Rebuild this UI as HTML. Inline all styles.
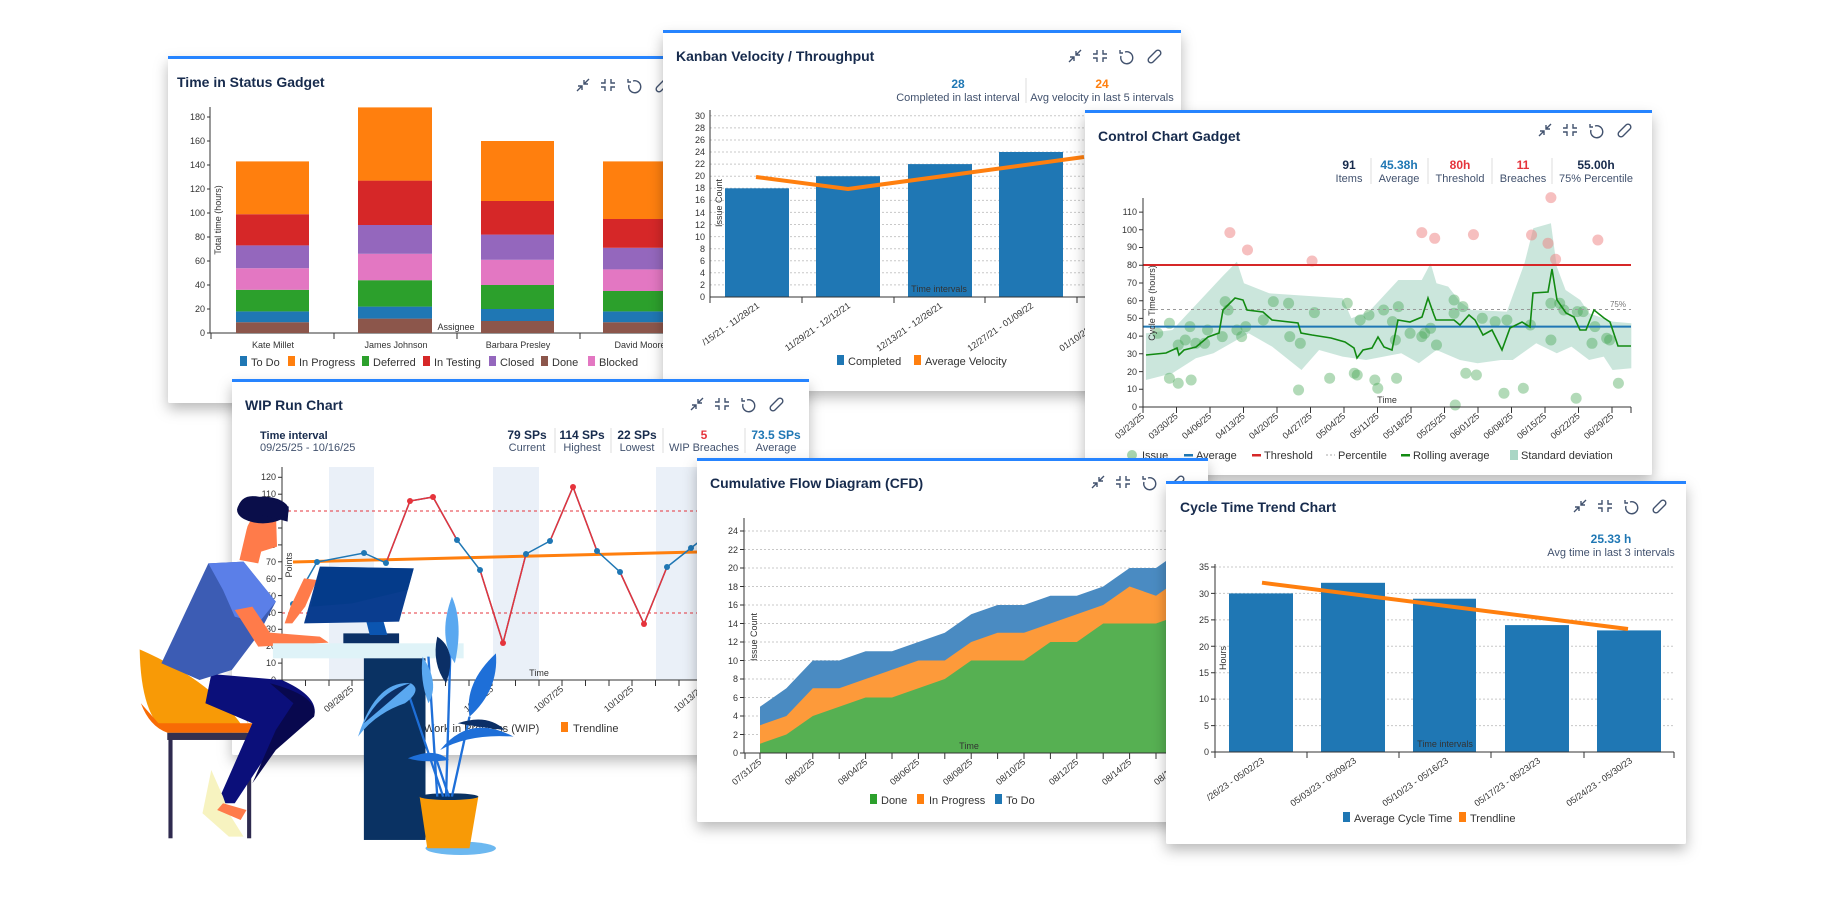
<!DOCTYPE html>
<html><head><meta charset="utf-8"><style>
html,body{margin:0;padding:0;background:#fff;width:1840px;height:900px;overflow:hidden}
svg{display:block;font-family:"Liberation Sans",sans-serif}
.t{font-size:14px;font-weight:bold;fill:#172b4d}
.k{font-size:9px;fill:#333}
.lg{font-size:11px;fill:#333}
.sv{font-size:12px;font-weight:bold;text-anchor:middle}
.sl{font-size:11px;fill:#42526e;text-anchor:middle}
.g{stroke:#c8c8c8;stroke-dasharray:2 2;stroke-width:1}
.ax{stroke:#333;stroke-width:1;fill:none}
</style></head><body>
<svg width="1840" height="900" viewBox="0 0 1840 900">
<defs>
<filter id="sh" x="-10%" y="-10%" width="125%" height="130%"><feDropShadow dx="0" dy="6" stdDeviation="7" flood-color="#000" flood-opacity="0.28"/></filter>
<symbol id="ic" viewBox="0 0 110 16" overflow="visible">
<g fill="none" stroke="#42526e" stroke-width="1.4">
<path d="M2 14 L7 9 M3 9 H7 V13 M14 2 L9 7 M9 3 V7 H13"/>
<path d="M30 2 V6 H26 M36 2 V6 H40 M30 14 V10 H26 M36 14 V10 H40"/>
<path d="M58 4 A6 6 0 1 1 54 8 M53 2 V5 H56"/>
<path d="M83 9 L89 3 A2.5 2.5 0 0 1 93 7 L86 14 A2.5 2.5 0 0 1 82 10 L88 4"/>
</g></symbol>
</defs>

<!-- CARD 1: Time in Status -->
<g filter="url(#sh)"><rect x="168" y="57" width="540" height="346" fill="#fff" rx="2"/></g>
<rect x="168" y="56" width="540" height="3" fill="#2684ff"/>
<text x="177" y="87" class="t">Time in Status Gadget</text>
<use href="#ic" x="575" y="77" width="110" height="16"/>
<g class="k" text-anchor="end">
<text x="205" y="336">0</text><text x="205" y="312">20</text><text x="205" y="288">40</text><text x="205" y="264">60</text><text x="205" y="240">80</text><text x="205" y="216">100</text><text x="205" y="192">120</text><text x="205" y="168">140</text><text x="205" y="144">160</text><text x="205" y="120">180</text>
</g>
<path class="ax" d="M210 107 V333 H700 M207 333 H210 M207 309 H210 M207 285 H210 M207 261 H210 M207 237 H210 M207 213 H210 M207 189 H210 M207 165 H210 M207 141 H210 M207 117 H210 M211 333 V339 M334 333 V339 M457 333 V339 M580 333 V339"/>
<text transform="translate(221 220) rotate(-90)" text-anchor="middle" font-size="9" fill="#333">Total time (hours)</text>
<g>
<rect x="236" y="322.2" width="73" height="10.8" fill="#8c564b"/><rect x="236" y="311.4" width="73" height="10.8" fill="#1f77b4"/><rect x="236" y="289.8" width="73" height="21.6" fill="#2ca02c"/><rect x="236" y="268.2" width="73" height="21.6" fill="#e377c2"/><rect x="236" y="245.4" width="73" height="22.8" fill="#9467bd"/><rect x="236" y="214.2" width="73" height="31.2" fill="#d62728"/><rect x="236" y="161.4" width="73" height="52.8" fill="#ff7f0e"/>
<rect x="358" y="318.6" width="74" height="14.4" fill="#8c564b"/><rect x="358" y="306.6" width="74" height="12" fill="#1f77b4"/><rect x="358" y="280.2" width="74" height="26.4" fill="#2ca02c"/><rect x="358" y="253.8" width="74" height="26.4" fill="#e377c2"/><rect x="358" y="225" width="74" height="28.8" fill="#9467bd"/><rect x="358" y="180.6" width="74" height="44.4" fill="#d62728"/><rect x="358" y="107.4" width="74" height="73.2" fill="#ff7f0e"/>
<rect x="481" y="321" width="73" height="12" fill="#8c564b"/><rect x="481" y="309" width="73" height="12" fill="#1f77b4"/><rect x="481" y="285" width="73" height="24" fill="#2ca02c"/><rect x="481" y="259.8" width="73" height="25.2" fill="#e377c2"/><rect x="481" y="234.6" width="73" height="25.2" fill="#9467bd"/><rect x="481" y="201" width="73" height="33.6" fill="#d62728"/><rect x="481" y="141" width="73" height="60" fill="#ff7f0e"/>
<rect x="603" y="322.2" width="73" height="10.8" fill="#8c564b"/><rect x="603" y="311.4" width="73" height="10.8" fill="#1f77b4"/><rect x="603" y="291" width="73" height="20.4" fill="#2ca02c"/><rect x="603" y="269.4" width="73" height="21.6" fill="#e377c2"/><rect x="603" y="247.8" width="73" height="21.6" fill="#9467bd"/><rect x="603" y="219" width="73" height="28.8" fill="#d62728"/><rect x="603" y="161.4" width="73" height="57.6" fill="#ff7f0e"/>
</g>
<text x="456" y="330" font-size="9" fill="#333" text-anchor="middle">Assignee</text>
<g class="k" text-anchor="middle"><text x="273" y="348">Kate Millet</text><text x="396" y="348">James Johnson</text><text x="518" y="348">Barbara Presley</text><text x="640" y="348">David Moore</text></g>
<g class="lg">
<rect x="240" y="356" width="7" height="10" fill="#1f77b4"/><text x="251" y="366">To Do</text>
<rect x="288" y="356" width="7" height="10" fill="#ff7f0e"/><text x="299" y="366">In Progress</text>
<rect x="362" y="356" width="7" height="10" fill="#2ca02c"/><text x="373" y="366">Deferred</text>
<rect x="423" y="356" width="7" height="10" fill="#d62728"/><text x="434" y="366">In Testing</text>
<rect x="489" y="356" width="7" height="10" fill="#9467bd"/><text x="500" y="366">Closed</text>
<rect x="541" y="356" width="7" height="10" fill="#8c564b"/><text x="552" y="366">Done</text>
<rect x="588" y="356" width="7" height="10" fill="#e377c2"/><text x="599" y="366">Blocked</text>
</g>

<!-- CARD 2: Kanban -->
<g filter="url(#sh)"><rect x="663" y="31" width="518" height="360" fill="#fff" rx="2"/></g>
<rect x="663" y="30" width="518" height="3" fill="#2684ff"/>
<text x="676" y="61" class="t">Kanban Velocity / Throughput</text>
<use href="#ic" x="1067" y="48" width="110" height="16"/>
<text x="958" y="88" class="sv" fill="#1f77b4">28</text><text x="958" y="101" class="sl">Completed in last interval</text>
<line x1="1026" y1="78" x2="1026" y2="103" stroke="#ddd"/>
<text x="1102" y="88" class="sv" fill="#ff7f0e">24</text><text x="1102" y="101" class="sl">Avg velocity in last 5 intervals</text>
<g>
<line class="g" x1="710" x2="1085" y1="284.9" y2="284.9"/><line class="g" x1="710" x2="1085" y1="272.8" y2="272.8"/><line class="g" x1="710" x2="1085" y1="260.8" y2="260.8"/><line class="g" x1="710" x2="1085" y1="248.7" y2="248.7"/><line class="g" x1="710" x2="1085" y1="236.6" y2="236.6"/><line class="g" x1="710" x2="1085" y1="224.5" y2="224.5"/><line class="g" x1="710" x2="1085" y1="212.4" y2="212.4"/><line class="g" x1="710" x2="1085" y1="200.4" y2="200.4"/><line class="g" x1="710" x2="1085" y1="188.3" y2="188.3"/><line class="g" x1="710" x2="1085" y1="176.2" y2="176.2"/><line class="g" x1="710" x2="1085" y1="164.1" y2="164.1"/><line class="g" x1="710" x2="1085" y1="152" y2="152"/><line class="g" x1="710" x2="1085" y1="140" y2="140"/><line class="g" x1="710" x2="1085" y1="127.9" y2="127.9"/><line class="g" x1="710" x2="1085" y1="115.8" y2="115.8"/>
</g>
<g class="k" text-anchor="end">
<text x="705" y="300">0</text><text x="705" y="288">2</text><text x="705" y="276">4</text><text x="705" y="264">6</text><text x="705" y="252">8</text><text x="705" y="240">10</text><text x="705" y="228">12</text><text x="705" y="216">14</text><text x="705" y="203">16</text><text x="705" y="191">18</text><text x="705" y="179">20</text><text x="705" y="167">22</text><text x="705" y="155">24</text><text x="705" y="143">26</text><text x="705" y="131">28</text><text x="705" y="119">30</text>
</g>
<rect x="725" y="188.3" width="64" height="108.7" fill="#1f77b4"/>
<rect x="816" y="176.2" width="64" height="120.8" fill="#1f77b4"/>
<rect x="908" y="164.1" width="64" height="132.9" fill="#1f77b4"/>
<rect x="999" y="152" width="64" height="145" fill="#1f77b4"/>
<rect x="1091" y="127.9" width="64" height="169.1" fill="#1f77b4"/>
<path class="ax" d="M710 110 V297 H1100 M710 303 V297 M802 303 V297 M894 303 V297 M985 303 V297 M1077 303 V297"/>
<polyline points="756,177 848,189 1084,157" fill="none" stroke="#ff7f0e" stroke-width="4"/>
<text transform="translate(722 203) rotate(-90)" text-anchor="middle" font-size="9" fill="#333">Issue Count</text>
<text x="939" y="292" font-size="9" fill="#333" text-anchor="middle">Time intervals</text>
<g class="k" text-anchor="end">
<text transform="translate(760 307) rotate(-35)">/15/21 - 11/28/21</text>
<text transform="translate(851 307) rotate(-35)">11/29/21 - 12/12/21</text>
<text transform="translate(943 307) rotate(-35)">12/13/21 - 12/26/21</text>
<text transform="translate(1034 307) rotate(-35)">12/27/21 - 01/09/22</text>
<text transform="translate(1126 307) rotate(-35)">01/10/22 - 01/23/22</text>
</g>
<g class="lg"><rect x="837" y="355" width="7" height="10" fill="#1f77b4"/><text x="848" y="365">Completed</text><rect x="914" y="355" width="7" height="10" fill="#ff7f0e"/><text x="925" y="365">Average Velocity</text></g>

<!-- CARD 3: Control Chart -->
<g filter="url(#sh)"><rect x="1085" y="111" width="567" height="364" fill="#fff" rx="2"/></g>
<rect x="1085" y="110" width="567" height="3" fill="#2684ff"/>
<text x="1098" y="141" class="t">Control Chart Gadget</text>
<use href="#ic" x="1537" y="122" width="110" height="16"/>
<text x="1349" y="169" class="sv" fill="#172b4d">91</text><text x="1349" y="182" class="sl">Items</text>
<text x="1399" y="169" class="sv" fill="#1f77b4">45.38h</text><text x="1399" y="182" class="sl">Average</text>
<text x="1460" y="169" class="sv" fill="#e5343c">80h</text><text x="1460" y="182" class="sl">Threshold</text>
<text x="1523" y="169" class="sv" fill="#e5343c">11</text><text x="1523" y="182" class="sl">Breaches</text>
<text x="1596" y="169" class="sv" fill="#172b4d">55.00h</text><text x="1596" y="182" class="sl">75% Percentile</text>
<g stroke="#ddd"><line x1="1371" y1="158" x2="1371" y2="184"/><line x1="1428" y1="158" x2="1428" y2="184"/><line x1="1492" y1="158" x2="1492" y2="184"/><line x1="1552" y1="158" x2="1552" y2="184"/></g>
<g transform="translate(920 0) scale(0.5869 0.3333)">
<polygon fill="#a9d6c5" fill-opacity="0.6" points="385,1000 430,990 515,830 540,785 552,850 595,880 720,895 735,955 765,935 815,840 855,840 870,790 880,850 900,860 920,905 940,930 1000,935 1030,790 1045,685 1075,670 1085,800 1100,870 1125,900 1140,940 1180,965 1212,970 1212,1105 1180,1110 1165,1070 1140,1080 1110,1040 1085,1060 1050,1030 1010,1080 990,1080 950,1090 920,1080 880,1050 850,1090 820,1060 760,1080 720,1070 680,1050 650,1110 600,1040 560,1000 530,1030 500,1060 470,1075 430,1120 385,1140"/>
<g fill="#3fa34d" fill-opacity="0.4">
<ellipse cx="405" cy="1000" rx="9.4" ry="16.5"/><ellipse cx="425" cy="970" rx="9.4" ry="16.5"/><ellipse cx="425" cy="1135" rx="9.4" ry="16.5"/><ellipse cx="440" cy="1150" rx="9.4" ry="16.5"/><ellipse cx="440" cy="1035" rx="9.4" ry="16.5"/><ellipse cx="452" cy="1020" rx="9.4" ry="16.5"/><ellipse cx="460" cy="980" rx="9.4" ry="16.5"/><ellipse cx="462" cy="1140" rx="9.4" ry="16.5"/><ellipse cx="470" cy="1030" rx="9.4" ry="16.5"/><ellipse cx="485" cy="1030" rx="9.4" ry="16.5"/><ellipse cx="490" cy="990" rx="9.4" ry="16.5"/><ellipse cx="515" cy="1010" rx="9.4" ry="16.5"/><ellipse cx="520" cy="905" rx="9.4" ry="16.5"/><ellipse cx="525" cy="930" rx="9.4" ry="16.5"/><ellipse cx="540" cy="990" rx="9.4" ry="16.5"/><ellipse cx="548" cy="1010" rx="9.4" ry="16.5"/><ellipse cx="555" cy="980" rx="9.4" ry="16.5"/><ellipse cx="585" cy="960" rx="9.4" ry="16.5"/><ellipse cx="602" cy="905" rx="9.4" ry="16.5"/><ellipse cx="628" cy="910" rx="9.4" ry="16.5"/><ellipse cx="630" cy="1010" rx="9.4" ry="16.5"/><ellipse cx="645" cy="1170" rx="9.4" ry="16.5"/><ellipse cx="648" cy="1030" rx="9.4" ry="16.5"/><ellipse cx="672" cy="938" rx="9.4" ry="16.5"/><ellipse cx="698" cy="1135" rx="9.4" ry="16.5"/><ellipse cx="728" cy="910" rx="9.4" ry="16.5"/><ellipse cx="740" cy="1120" rx="9.4" ry="16.5"/><ellipse cx="745" cy="1125" rx="9.4" ry="16.5"/><ellipse cx="750" cy="960" rx="9.4" ry="16.5"/><ellipse cx="765" cy="945" rx="9.4" ry="16.5"/><ellipse cx="775" cy="1140" rx="9.4" ry="16.5"/><ellipse cx="780" cy="1165" rx="9.4" ry="16.5"/><ellipse cx="790" cy="930" rx="9.4" ry="16.5"/><ellipse cx="805" cy="965" rx="9.4" ry="16.5"/><ellipse cx="810" cy="1020" rx="9.4" ry="16.5"/><ellipse cx="812" cy="1135" rx="9.4" ry="16.5"/><ellipse cx="815" cy="920" rx="9.4" ry="16.5"/><ellipse cx="835" cy="1000" rx="9.4" ry="16.5"/><ellipse cx="855" cy="1010" rx="9.4" ry="16.5"/><ellipse cx="860" cy="1000" rx="9.4" ry="16.5"/><ellipse cx="870" cy="985" rx="9.4" ry="16.5"/><ellipse cx="880" cy="1035" rx="9.4" ry="16.5"/><ellipse cx="910" cy="900" rx="9.4" ry="16.5"/><ellipse cx="912" cy="1215" rx="9.4" ry="16.5"/><ellipse cx="910" cy="940" rx="9.4" ry="16.5"/><ellipse cx="925" cy="920" rx="9.4" ry="16.5"/><ellipse cx="930" cy="1120" rx="9.4" ry="16.5"/><ellipse cx="948" cy="1125" rx="9.4" ry="16.5"/><ellipse cx="958" cy="955" rx="9.4" ry="16.5"/><ellipse cx="980" cy="965" rx="9.4" ry="16.5"/><ellipse cx="995" cy="1180" rx="9.4" ry="16.5"/><ellipse cx="1000" cy="960" rx="9.4" ry="16.5"/><ellipse cx="1028" cy="1165" rx="9.4" ry="16.5"/><ellipse cx="1040" cy="975" rx="9.4" ry="16.5"/><ellipse cx="1075" cy="1020" rx="9.4" ry="16.5"/><ellipse cx="1075" cy="910" rx="9.4" ry="16.5"/><ellipse cx="1090" cy="910" rx="9.4" ry="16.5"/><ellipse cx="1097" cy="930" rx="9.4" ry="16.5"/><ellipse cx="1118" cy="1195" rx="9.4" ry="16.5"/><ellipse cx="1120" cy="935" rx="9.4" ry="16.5"/><ellipse cx="1130" cy="935" rx="9.4" ry="16.5"/><ellipse cx="1145" cy="1030" rx="9.4" ry="16.5"/><ellipse cx="1150" cy="980" rx="9.4" ry="16.5"/><ellipse cx="1170" cy="1015" rx="9.4" ry="16.5"/><ellipse cx="1190" cy="1150" rx="9.4" ry="16.5"/><ellipse cx="1175" cy="1020" rx="9.4" ry="16.5"/>
</g>
<g fill="#ee8080" fill-opacity="0.5">
<ellipse cx="528" cy="698" rx="9.4" ry="16.5"/><ellipse cx="558" cy="750" rx="9.4" ry="16.5"/><ellipse cx="668" cy="783" rx="9.4" ry="16.5"/><ellipse cx="855" cy="698" rx="9.4" ry="16.5"/><ellipse cx="877" cy="715" rx="9.4" ry="16.5"/><ellipse cx="943" cy="704" rx="9.4" ry="16.5"/><ellipse cx="1042" cy="705" rx="9.4" ry="16.5"/><ellipse cx="1075" cy="593" rx="9.4" ry="16.5"/><ellipse cx="1070" cy="730" rx="9.4" ry="16.5"/><ellipse cx="1083" cy="778" rx="9.4" ry="16.5"/><ellipse cx="1155" cy="720" rx="9.4" ry="16.5"/>
</g>
</g>
<line x1="1143" x2="1631" y1="309.5" y2="309.5" stroke="#999" stroke-dasharray="3 3"/>
<line x1="1143" x2="1631" y1="265" y2="265" stroke="#d62728" stroke-width="2"/>
<line x1="1143" x2="1631" y1="326.6" y2="326.6" stroke="#1f77b4" stroke-width="2"/>
<polyline fill="none" stroke="#128a12" stroke-width="1.6" points="1146,355 1166,353 1177,348 1179,355 1184,350 1196,347 1208,337 1219,333 1223,310 1235,298 1243,300 1247,310 1263,312 1272,320 1298,323 1301,333 1312,335 1331,338 1345,342 1354,348 1357,358 1363,350 1372,348 1378,337 1384,347 1392,350 1398,320 1410,322 1422,317 1428,298 1434,315 1436,320 1454,320 1460,325 1469,315 1475,320 1483,335 1492,330 1502,350 1510,328 1522,322 1530,327 1533,293 1548,292 1552,269 1557,300 1566,313 1574,317 1580,330 1586,330 1594,310 1604,318 1610,322 1618,346 1631,346"/>
<text x="1618" y="307" font-size="8" fill="#777" text-anchor="middle">75%</text>
<path class="ax" d="M1143 198 V407 H1631 M1139 407 H1143 M1139 389.3 H1143 M1139 371.6 H1143 M1139 353.8 H1143 M1139 336.1 H1143 M1139 318.4 H1143 M1139 300.7 H1143 M1139 283 H1143 M1139 265.2 H1143 M1139 247.5 H1143 M1139 229.8 H1143 M1139 212.1 H1143"/>
<g class="k" text-anchor="end"><text x="1137" y="410">0</text><text x="1137" y="392">10</text><text x="1137" y="375">20</text><text x="1137" y="357">30</text><text x="1137" y="339">40</text><text x="1137" y="321">50</text><text x="1137" y="304">60</text><text x="1137" y="286">70</text><text x="1137" y="268">80</text><text x="1137" y="250">90</text><text x="1137" y="233">100</text><text x="1137" y="215">110</text></g>
<text transform="translate(1155 303) rotate(-90)" text-anchor="middle" font-size="9" fill="#333">Cycle Time (hours)</text>
<text x="1387" y="403" font-size="9" fill="#333" text-anchor="middle">Time</text>
<g stroke="#333"><line x1="1143" y1="407" x2="1143" y2="413"/><line x1="1176.5" y1="407" x2="1176.5" y2="413"/><line x1="1210" y1="407" x2="1210" y2="413"/><line x1="1243.5" y1="407" x2="1243.5" y2="413"/><line x1="1277" y1="407" x2="1277" y2="413"/><line x1="1310.5" y1="407" x2="1310.5" y2="413"/><line x1="1344" y1="407" x2="1344" y2="413"/><line x1="1377.5" y1="407" x2="1377.5" y2="413"/><line x1="1411" y1="407" x2="1411" y2="413"/><line x1="1444.5" y1="407" x2="1444.5" y2="413"/><line x1="1478" y1="407" x2="1478" y2="413"/><line x1="1511.5" y1="407" x2="1511.5" y2="413"/><line x1="1545" y1="407" x2="1545" y2="413"/><line x1="1578.5" y1="407" x2="1578.5" y2="413"/><line x1="1612" y1="407" x2="1612" y2="413"/><line x1="1631" y1="407" x2="1631" y2="413"/></g>
<g class="k" text-anchor="end">
<text transform="translate(1145 417) rotate(-40)">03/23/25</text><text transform="translate(1178.5 417) rotate(-40)">03/30/25</text><text transform="translate(1212 417) rotate(-40)">04/06/25</text><text transform="translate(1245.5 417) rotate(-40)">04/13/25</text><text transform="translate(1279 417) rotate(-40)">04/20/25</text><text transform="translate(1312.5 417) rotate(-40)">04/27/25</text><text transform="translate(1346 417) rotate(-40)">05/04/25</text><text transform="translate(1379.5 417) rotate(-40)">05/11/25</text><text transform="translate(1413 417) rotate(-40)">05/18/25</text><text transform="translate(1446.5 417) rotate(-40)">05/25/25</text><text transform="translate(1480 417) rotate(-40)">06/01/25</text><text transform="translate(1513.5 417) rotate(-40)">06/08/25</text><text transform="translate(1547 417) rotate(-40)">06/15/25</text><text transform="translate(1580.5 417) rotate(-40)">06/22/25</text><text transform="translate(1614 417) rotate(-40)">06/29/25</text>
</g>
<g class="lg">
<circle cx="1132" cy="455" r="5" fill="#3fa34d" fill-opacity="0.45"/><text x="1142" y="459">Issue</text>
<rect x="1184" y="454" width="9" height="2.5" fill="#1f77b4"/><text x="1196" y="459">Average</text>
<rect x="1252" y="454" width="9" height="2.5" fill="#d62728"/><text x="1264" y="459">Threshold</text>
<line x1="1326" y1="455" x2="1335" y2="455" stroke="#aaa" stroke-dasharray="2 2"/><text x="1338" y="459">Percentile</text>
<rect x="1401" y="454" width="9" height="2.5" fill="#128a12"/><text x="1413" y="459">Rolling average</text>
<rect x="1510" y="450" width="8" height="10" fill="#a9d6c5"/><text x="1521" y="459">Standard deviation</text>
</g>

<!-- CARD 4: WIP Run Chart -->
<g filter="url(#sh)"><rect x="232" y="380" width="577" height="375" fill="#fff" rx="2"/></g>
<rect x="232" y="379" width="577" height="3" fill="#2684ff"/>
<text x="245" y="410" class="t" font-size="15">WIP Run Chart</text>
<use href="#ic" x="689" y="396" width="110" height="16"/>
<text x="260" y="439" font-size="11" font-weight="bold" fill="#172b4d">Time interval</text>
<text x="260" y="451" font-size="11" fill="#42526e">09/25/25 - 10/16/25</text>
<text x="527" y="439" class="sv" fill="#172b4d">79 SPs</text><text x="527" y="451" class="sl">Current</text>
<text x="582" y="439" class="sv" fill="#172b4d">114 SPs</text><text x="582" y="451" class="sl">Highest</text>
<text x="637" y="439" class="sv" fill="#172b4d">22 SPs</text><text x="637" y="451" class="sl">Lowest</text>
<text x="704" y="439" class="sv" fill="#e5343c">5</text><text x="704" y="451" class="sl">WIP Breaches</text>
<text x="776" y="439" class="sv" fill="#1f77b4">73.5 SPs</text><text x="776" y="451" class="sl">Average</text>
<g stroke="#ddd"><line x1="555" y1="428" x2="555" y2="453"/><line x1="611" y1="428" x2="611" y2="453"/><line x1="663" y1="428" x2="663" y2="453"/><line x1="745" y1="428" x2="745" y2="453"/></g>
<g fill="#eaf0f8"><rect x="329" y="467" width="45" height="213"/><rect x="493" y="467" width="46" height="213"/><rect x="656" y="467" width="45" height="213"/></g>
<line x1="282" x2="800" y1="511" y2="511" stroke="#e5343c" stroke-dasharray="3 3"/>
<line x1="282" x2="800" y1="613" y2="613" stroke="#e5343c" stroke-dasharray="3 3"/>
<path class="ax" d="M282 467 V680 H800"/>
<g stroke="#333"><line x1="278" y1="680" x2="282" y2="680"/><line x1="278" y1="663.1" x2="282" y2="663.1"/><line x1="278" y1="646.2" x2="282" y2="646.2"/><line x1="278" y1="629.3" x2="282" y2="629.3"/><line x1="278" y1="612.4" x2="282" y2="612.4"/><line x1="278" y1="595.6" x2="282" y2="595.6"/><line x1="278" y1="578.7" x2="282" y2="578.7"/><line x1="278" y1="561.8" x2="282" y2="561.8"/><line x1="278" y1="544.9" x2="282" y2="544.9"/><line x1="278" y1="528" x2="282" y2="528"/><line x1="278" y1="511.1" x2="282" y2="511.1"/><line x1="278" y1="494.2" x2="282" y2="494.2"/><line x1="278" y1="477.3" x2="282" y2="477.3"/>
<line x1="282" y1="680" x2="282" y2="686"/><line x1="305.5" y1="680" x2="305.5" y2="686"/><line x1="329" y1="680" x2="329" y2="686"/><line x1="352" y1="680" x2="352" y2="686"/><line x1="375.5" y1="680" x2="375.5" y2="686"/><line x1="399" y1="680" x2="399" y2="686"/><line x1="422" y1="680" x2="422" y2="686"/><line x1="445.5" y1="680" x2="445.5" y2="686"/><line x1="469" y1="680" x2="469" y2="686"/><line x1="492" y1="680" x2="492" y2="686"/><line x1="515.5" y1="680" x2="515.5" y2="686"/><line x1="539" y1="680" x2="539" y2="686"/><line x1="562" y1="680" x2="562" y2="686"/><line x1="585.5" y1="680" x2="585.5" y2="686"/><line x1="609" y1="680" x2="609" y2="686"/><line x1="632" y1="680" x2="632" y2="686"/><line x1="655.5" y1="680" x2="655.5" y2="686"/><line x1="679" y1="680" x2="679" y2="686"/></g>
<g class="k" text-anchor="end"><text x="276" y="683">0</text><text x="276" y="666">10</text><text x="276" y="649">20</text><text x="276" y="632">30</text><text x="276" y="616">40</text><text x="276" y="599">50</text><text x="276" y="582">60</text><text x="276" y="565">70</text><text x="276" y="548">80</text><text x="276" y="531">90</text><text x="276" y="514">100</text><text x="276" y="497">110</text><text x="276" y="480">120</text></g>
<text transform="translate(292 565) rotate(-90)" text-anchor="middle" font-size="9" fill="#333">Points</text>
<text x="539" y="676" font-size="9" fill="#333" text-anchor="middle">Time</text>
<line x1="293" y1="562" x2="697" y2="552" stroke="#ff7f0e" stroke-width="3"/>
<polyline fill="none" stroke="#1f77b4" stroke-width="1.5" points="293,604 317,562 364,553 386,563 410,501 433,497 457,540 480,570 503,643 526,554 550,541 573,487 597,551 620,572 644,624 667,567 691,548 714,530"/>
<g stroke="#e5343c" stroke-width="1.5" fill="none"><polyline points="386,563 410,501 433,497 457,540"/><polyline points="480,570 503,643 526,554"/><polyline points="550,541 573,487 597,551"/><polyline points="620,572 644,624 667,567"/></g>
<g fill="#1f77b4"><circle cx="293" cy="604" r="3"/><circle cx="317" cy="562" r="3"/><circle cx="364" cy="553" r="3"/><circle cx="386" cy="563" r="3"/><circle cx="457" cy="540" r="3"/><circle cx="480" cy="570" r="3"/><circle cx="526" cy="554" r="3"/><circle cx="550" cy="541" r="3"/><circle cx="597" cy="551" r="3"/><circle cx="620" cy="572" r="3"/><circle cx="667" cy="567" r="3"/><circle cx="691" cy="548" r="3"/></g>
<g fill="#e5343c"><circle cx="410" cy="501" r="3"/><circle cx="433" cy="497" r="3"/><circle cx="503" cy="643" r="3"/><circle cx="573" cy="487" r="3"/><circle cx="644" cy="624" r="3"/></g>
<g class="k" text-anchor="end"><text transform="translate(284 690) rotate(-40)">09/25/25</text><text transform="translate(354 690) rotate(-40)">09/28/25</text><text transform="translate(424 690) rotate(-40)">10/01/25</text><text transform="translate(494 690) rotate(-40)">10/04/25</text><text transform="translate(564 690) rotate(-40)">10/07/25</text><text transform="translate(634 690) rotate(-40)">10/10/25</text><text transform="translate(704 690) rotate(-40)">10/13/25</text></g>
<g class="lg"><rect x="413" y="722" width="7" height="10" fill="#1f77b4"/><text x="424" y="732">Work in Progress (WIP)</text><rect x="561" y="722" width="7" height="10" fill="#ff7f0e"/><text x="573" y="732">Trendline</text></g>

<!-- PERSON ILLUSTRATION -->
<g transform="translate(0 450) scale(0.5869 0.3333)">
<rect x="287" y="855" width="7" height="310" fill="#2e2a4f"/><rect x="421" y="855" width="7" height="310" fill="#2e2a4f"/>
<rect x="285" y="848" width="145" height="22" fill="#35304f"/>
<path d="M238 598 Q240 800 285 848 L430 848 Q400 690 238 598 Z" fill="#f89a06"/>
<path d="M238 598 Q255 600 275 610 Q380 690 430 840 L430 848 L420 848 Q370 700 238 598Z" fill="#ffffff"/>
<path d="M240 760 Q255 830 285 848 L430 848 L430 820 L270 820 Z" fill="#f86b05"/>
<path d="M350 760 L430 820 L370 1060 L400 1060 L460 900 L535 800 Q545 740 480 690 L360 672 Z" fill="#0b0f7a"/>
<path d="M460 700 Q545 740 535 800 L470 900 L430 1000 L470 840 L500 760 Z" fill="#08084e"/>
<path d="M360 960 L345 1090 L390 1160 L415 1160 L390 1090 L380 1040 Z" fill="#f7f3c0"/>
<path d="M380 1060 L420 1080 L410 1110 L370 1080 Z" fill="#ff7b4a"/>
<path d="M275 640 L355 340 L415 335 L470 455 L440 555 L395 660 L340 690 Z" fill="#3c5cb4"/>
<path d="M355 340 L415 335 L470 455 L440 520 L400 500 L380 420 Z" fill="#5b7fe8"/>
<path d="M400 480 L440 590 L560 578 L545 560 L460 548 L430 470 Z" fill="#ff7b4a"/>
<path d="M498 520 L520 470 L540 390 L518 385 L495 470 L485 520 Z" fill="#ff7b4a"/>
<path d="M408 330 L420 240 Q425 190 470 180 L472 290 L445 305 L440 340 Z" fill="#ff7b4a"/>
<ellipse cx="448" cy="180" rx="44" ry="40" fill="#0a0e4a"/>
<path d="M404 180 Q410 130 440 140 L492 170 L490 215 L470 205 Z" fill="#0a0e4a"/>
<path d="M585 550 L680 550 L680 580 L585 580 Z" fill="#0b3066"/>
<path d="M612 430 L640 430 L660 555 L630 555 Z" fill="#0b55b0"/>
<polygon points="518,520 545,350 705,355 680,515" fill="#0a3d8f"/>
<polygon points="545,350 705,355 695,420 600,460 530,470" fill="#003a87" opacity="0.6"/>
<rect x="465" y="580" width="325" height="45" fill="#dff3f8"/>
<rect x="620" y="625" width="105" height="545" fill="#0a3263"/>
<ellipse cx="785" cy="1195" rx="60" ry="20" fill="#6cb8f0"/>
<polygon points="715,1040 815,1040 800,1195 728,1195" fill="#f89a06"/>
<ellipse cx="765" cy="1040" rx="50" ry="10" fill="#0a3263"/>
<g fill="none" stroke="#1e6fd8" stroke-width="4"><path d="M745 1040 L730 620"/><path d="M760 1040 L770 450"/><path d="M770 1040 L800 800"/><path d="M755 1040 L690 700"/><path d="M765 1040 L740 910"/></g>
<path d="M770 440 Q790 520 775 640 Q745 560 770 440Z" fill="#5aa8f0"/>
<path d="M745 560 Q780 600 760 700 Q735 640 745 560Z" fill="#0b2f66"/>
<path d="M845 610 Q850 720 800 800 Q790 700 845 610Z" fill="#1e6fd8"/>
<path d="M610 860 Q640 690 700 700 Q720 720 690 760 Q640 790 610 860Z" fill="#5aa8f0"/>
<path d="M620 820 Q650 720 700 700 Q660 760 620 820Z" fill="#0b2f66"/>
<path d="M750 900 Q800 790 875 860 Q800 850 750 900Z" fill="#1e6fd8"/>
<path d="M780 820 Q830 790 860 840 Q810 830 780 820Z" fill="#0b2f66"/>
<path d="M695 925 Q740 890 765 930 Q720 940 695 925Z" fill="#1e6fd8"/>
<path d="M720 620 Q750 700 730 760 Q715 690 720 620Z" fill="#5aa8f0"/>
</g>

<!-- CARD 5: CFD -->
<g filter="url(#sh)"><rect x="697" y="459" width="511" height="363" fill="#fff" rx="2"/></g>
<rect x="697" y="458" width="511" height="3" fill="#2684ff"/>
<text x="710" y="488" class="t" font-size="14" font-weight="normal" fill="#222">Cumulative Flow Diagram (CFD)</text>
<use href="#ic" x="1090" y="474" width="110" height="16"/>
<g><line class="g" x1="744" x2="1200" y1="734.5" y2="734.5"/><line class="g" x1="744" x2="1200" y1="716" y2="716"/><line class="g" x1="744" x2="1200" y1="697.5" y2="697.5"/><line class="g" x1="744" x2="1200" y1="679" y2="679"/><line class="g" x1="744" x2="1200" y1="660.5" y2="660.5"/><line class="g" x1="744" x2="1200" y1="642" y2="642"/><line class="g" x1="744" x2="1200" y1="623.5" y2="623.5"/><line class="g" x1="744" x2="1200" y1="605" y2="605"/><line class="g" x1="744" x2="1200" y1="586.5" y2="586.5"/><line class="g" x1="744" x2="1200" y1="568" y2="568"/><line class="g" x1="744" x2="1200" y1="549.5" y2="549.5"/><line class="g" x1="744" x2="1200" y1="531" y2="531"/></g>
<polygon fill="#4a8bc2" points="760,753 760,706.75 786.4,688.25 812.8,660.5 839.2,660.5 865.6,651.25 892,651.25 918.4,642 944.8,632.75 971.2,614.25 997.6,605 1024,605 1050.4,595.75 1076.8,595.75 1103.2,586.5 1129.6,568 1156,568 1182.4,549.5 1182.4,753"/>
<polygon fill="#fd9a3a" points="760,753 760,725.25 786.4,716 812.8,688.25 839.2,688.25 865.6,679 892,669.75 918.4,660.5 944.8,660.5 971.2,642 997.6,632.75 1024,632.75 1050.4,623.5 1076.8,614.25 1103.2,605 1129.6,586.5 1156,595.75 1182.4,577.25 1182.4,753"/>
<polygon fill="#56b052" points="760,753 760,743.75 786.4,734.5 812.8,716 839.2,706.75 865.6,697.5 892,697.5 918.4,688.25 944.8,679 971.2,660.5 997.6,660.5 1024,660.5 1050.4,642 1076.8,642 1103.2,623.5 1129.6,623.5 1156,623.5 1182.4,614.25 1182.4,753"/>
<path class="ax" d="M744 518 V753 H1200"/>
<g stroke="#333"><line x1="740" y1="753" x2="744" y2="753"/><line x1="740" y1="734.5" x2="744" y2="734.5"/><line x1="740" y1="716" x2="744" y2="716"/><line x1="740" y1="697.5" x2="744" y2="697.5"/><line x1="740" y1="679" x2="744" y2="679"/><line x1="740" y1="660.5" x2="744" y2="660.5"/><line x1="740" y1="642" x2="744" y2="642"/><line x1="740" y1="623.5" x2="744" y2="623.5"/><line x1="740" y1="605" x2="744" y2="605"/><line x1="740" y1="586.5" x2="744" y2="586.5"/><line x1="740" y1="568" x2="744" y2="568"/><line x1="740" y1="549.5" x2="744" y2="549.5"/><line x1="740" y1="531" x2="744" y2="531"/>
<line x1="745" y1="753" x2="745" y2="759"/><line x1="760" y1="753" x2="760" y2="759"/><line x1="786.4" y1="753" x2="786.4" y2="759"/><line x1="812.8" y1="753" x2="812.8" y2="759"/><line x1="839.2" y1="753" x2="839.2" y2="759"/><line x1="865.6" y1="753" x2="865.6" y2="759"/><line x1="892" y1="753" x2="892" y2="759"/><line x1="918.4" y1="753" x2="918.4" y2="759"/><line x1="944.8" y1="753" x2="944.8" y2="759"/><line x1="971.2" y1="753" x2="971.2" y2="759"/><line x1="997.6" y1="753" x2="997.6" y2="759"/><line x1="1024" y1="753" x2="1024" y2="759"/><line x1="1050.4" y1="753" x2="1050.4" y2="759"/><line x1="1076.8" y1="753" x2="1076.8" y2="759"/><line x1="1103.2" y1="753" x2="1103.2" y2="759"/><line x1="1129.6" y1="753" x2="1129.6" y2="759"/><line x1="1156" y1="753" x2="1156" y2="759"/></g>
<g class="k" text-anchor="end"><text x="738" y="756">0</text><text x="738" y="738">2</text><text x="738" y="719">4</text><text x="738" y="701">6</text><text x="738" y="682">8</text><text x="738" y="664">10</text><text x="738" y="645">12</text><text x="738" y="627">14</text><text x="738" y="608">16</text><text x="738" y="590">18</text><text x="738" y="571">20</text><text x="738" y="553">22</text><text x="738" y="534">24</text></g>
<text transform="translate(757 637) rotate(-90)" text-anchor="middle" font-size="9" fill="#333">Issue Count</text>
<text x="969" y="749" font-size="9" fill="#333" text-anchor="middle">Time</text>
<g class="k" text-anchor="end"><text transform="translate(762 763) rotate(-40)">07/31/25</text><text transform="translate(815 763) rotate(-40)">08/02/25</text><text transform="translate(868 763) rotate(-40)">08/04/25</text><text transform="translate(920 763) rotate(-40)">08/06/25</text><text transform="translate(973 763) rotate(-40)">08/08/25</text><text transform="translate(1026 763) rotate(-40)">08/10/25</text><text transform="translate(1079 763) rotate(-40)">08/12/25</text><text transform="translate(1132 763) rotate(-40)">08/14/25</text><text transform="translate(1184 763) rotate(-40)">08/16/25</text></g>
<g class="lg"><rect x="870" y="794" width="7" height="10" fill="#2ca02c"/><text x="881" y="804">Done</text><rect x="917" y="794" width="7" height="10" fill="#ff7f0e"/><text x="929" y="804">In Progress</text><rect x="995" y="794" width="7" height="10" fill="#1f77b4"/><text x="1006" y="804">To Do</text></g>

<!-- CARD 6: Cycle Time -->
<g filter="url(#sh)"><rect x="1166" y="482" width="520" height="362" fill="#fff" rx="2"/></g>
<rect x="1166" y="481" width="520" height="3" fill="#2684ff"/>
<text x="1180" y="512" class="t" font-size="14" font-weight="normal" fill="#222">Cycle Time Trend Chart</text>
<use href="#ic" x="1572" y="498" width="110" height="16"/>
<text x="1611" y="543" class="sv" fill="#1f77b4">25.33 h</text>
<text x="1611" y="556" class="sl">Avg time in last 3 intervals</text>
<g><line class="g" x1="1215" x2="1674" y1="725.6" y2="725.6"/><line class="g" x1="1215" x2="1674" y1="699.1" y2="699.1"/><line class="g" x1="1215" x2="1674" y1="672.7" y2="672.7"/><line class="g" x1="1215" x2="1674" y1="646.3" y2="646.3"/><line class="g" x1="1215" x2="1674" y1="619.9" y2="619.9"/><line class="g" x1="1215" x2="1674" y1="593.4" y2="593.4"/><line class="g" x1="1215" x2="1674" y1="567" y2="567"/></g>
<g fill="#1f77b4"><rect x="1229" y="593.4" width="64" height="158.6"/><rect x="1321" y="582.8" width="64" height="169.2"/><rect x="1413" y="598.7" width="63" height="153.3"/><rect x="1505" y="625.1" width="64" height="126.9"/><rect x="1597" y="630.4" width="64" height="121.6"/></g>
<path class="ax" d="M1215 564 V752 H1674 M1211 752 H1215 M1211 725.6 H1215 M1211 699.1 H1215 M1211 672.7 H1215 M1211 646.3 H1215 M1211 619.9 H1215 M1211 593.4 H1215 M1211 567 H1215 M1215 752 V758 M1307 752 V758 M1399 752 V758 M1491 752 V758 M1584 752 V758 M1674 752 V758"/>
<line x1="1262" y1="582.7" x2="1628" y2="629" stroke="#ff7f0e" stroke-width="4"/>
<g class="k" text-anchor="end"><text x="1209" y="755">0</text><text x="1209" y="729">5</text><text x="1209" y="702">10</text><text x="1209" y="676">15</text><text x="1209" y="650">20</text><text x="1209" y="623">25</text><text x="1209" y="597">30</text><text x="1209" y="570">35</text></g>
<text transform="translate(1226 658) rotate(-90)" text-anchor="middle" font-size="9" fill="#333">Hours</text>
<text x="1445" y="747" font-size="9" fill="#333" text-anchor="middle">Time intervals</text>
<g class="k" text-anchor="end"><text transform="translate(1265 762) rotate(-35)">/26/23 - 05/02/23</text><text transform="translate(1357 762) rotate(-35)">05/03/23 - 05/09/23</text><text transform="translate(1449 762) rotate(-35)">05/10/23 - 05/16/23</text><text transform="translate(1541 762) rotate(-35)">05/17/23 - 05/23/23</text><text transform="translate(1633 762) rotate(-35)">05/24/23 - 05/30/23</text></g>
<g class="lg"><rect x="1343" y="812" width="7" height="10" fill="#1f77b4"/><text x="1354" y="822">Average Cycle Time</text><rect x="1459" y="812" width="7" height="10" fill="#ff7f0e"/><text x="1470" y="822">Trendline</text></g>
</svg>
</body></html>
